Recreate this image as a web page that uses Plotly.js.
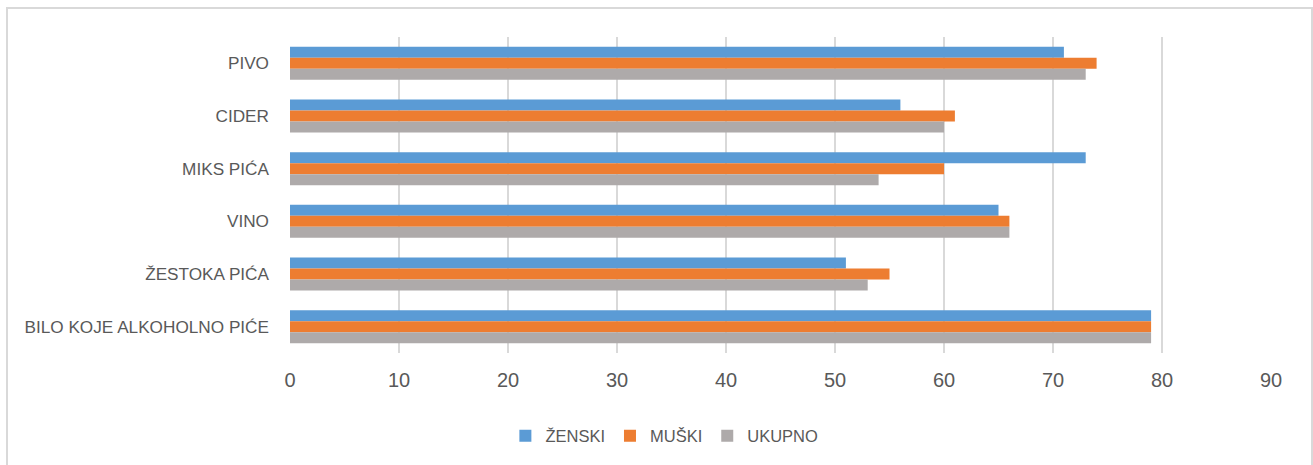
<!DOCTYPE html>
<html>
<head>
<meta charset="utf-8">
<script src="https://cdn.plot.ly/plotly-3.0.1.min.js"></script>
<style>html,body{margin:0;padding:0;background:#fff;}#chart{width:1313px;height:465px;}</style>
</head>
<body>
<div id="chart"></div>
<script>
var categories = ["PIVO", "CIDER", "MIKS PIĆA", "VINO", "ŽESTOKA PIĆA", "BILO KOJE ALKOHOLNO PIĆE"];
var seriesNames = ["ŽENSKI", "MUŠKI", "UKUPNO"];
var zenski = [71, 56, 73, 65, 51, 79];
var muski = [74, 61, 60, 66, 55, 79];
var ukupno = [73, 60, 54, 66, 53, 79];
var xTicks = [0, 10, 20, 30, 40, 50, 60, 70, 80, 90];

var colors = ["#5B9BD5", "#ED7D31", "#AEAAAA"];
var values = [zenski, muski, ukupno];
var traces = values.map(function (v, i) {
  return {
    type: "bar",
    orientation: "h",
    name: seriesNames[i],
    y: categories,
    x: v,
    marker: {color: colors[i], line: {width: 0}},
    hoverinfo: "x+y"
  };
});

var layout = {
  width: 1313,
  height: 465,
  margin: {l: 290, r: 42, t: 37, b: 112, pad: 0},
  paper_bgcolor: "#ffffff",
  plot_bgcolor: "#ffffff",
  barmode: "group",
  bargap: 0.374,
  bargroupgap: 0,
  font: {family: "Liberation Sans, Arial, sans-serif", color: "#595959"},
  xaxis: {
    range: [0, 90],
    tickvals: xTicks,
    ticktext: xTicks.map(String),
    showgrid: true,
    gridcolor: "#D9D9D9",
    gridwidth: 1.5,
    zeroline: false,
    showline: false,
    ticks: "",
    ticklabelstandoff: 13,
    tickfont: {size: 20, color: "#595959"},
    fixedrange: true
  },
  yaxis: {
    type: "category",
    autorange: "reversed",
    showgrid: false,
    zeroline: false,
    showline: false,
    ticks: "",
    ticklabelstandoff: 20,
    tickfont: {size: 17.2, color: "#595959"},
    fixedrange: true
  },
  showlegend: true,
  legend: {
    orientation: "h",
    xref: "container",
    yref: "container",
    x: 0.506,
    xanchor: "center",
    y: 0.0624,
    yanchor: "middle",
    font: {size: 16.5, color: "#595959"},
    itemwidth: 30,
    tracegroupgap: 0,
    bgcolor: "rgba(0,0,0,0)"
  },
  shapes: [{
    type: "rect",
    xref: "paper",
    yref: "paper",
    x0: (7 - 290) / 981,
    x1: (1312 - 290) / 981,
    y0: (353 - 475) / 316,
    y1: (353 - 8) / 316,
    line: {color: "#D9D9D9", width: 2},
    fillcolor: "rgba(0,0,0,0)",
    layer: "below"
  }]
};

Plotly.newPlot("chart", traces, layout, {displayModeBar: false, staticPlot: true});
</script>
</body>
</html>
